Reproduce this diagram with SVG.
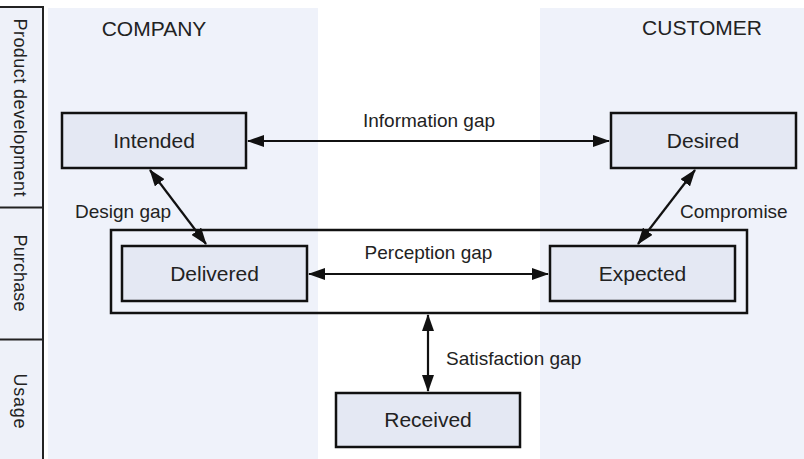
<svg xmlns="http://www.w3.org/2000/svg" width="804" height="459" viewBox="0 0 804 459">
<defs>
<style>
.col{fill:#eff2fa;stroke:none}
.side{fill:#eef1f9;stroke:#222;stroke-width:2}
.node rect{fill:#e4e8f3;stroke:#111;stroke-width:2.5}
.node text{font-family:"Liberation Sans",Arial,sans-serif;font-size:21px;fill:#222;text-anchor:middle}
.lbl{font-family:"Liberation Sans",Arial,sans-serif;font-size:19px;fill:#222}
.hdr{font-family:"Liberation Sans",Arial,sans-serif;font-size:21px;fill:#222;text-anchor:middle}
.stxt{font-family:"Liberation Sans",Arial,sans-serif;font-size:18px;fill:#222;text-anchor:middle}
.conn line{stroke:#111;stroke-width:2.2;marker-start:url(#ah);marker-end:url(#ah)}
</style>
<marker id="ah" viewBox="0 0 17 12" refX="16" refY="6" markerWidth="17" markerHeight="12" markerUnits="userSpaceOnUse" orient="auto-start-reverse">
<path d="M0,0 L17,6 L0,12 z" fill="#111"/>
</marker>
</defs>
<rect x="0" y="0" width="804" height="459" fill="#ffffff"/>
<rect class="col" x="48" y="8" width="270" height="451"/>
<rect class="col" x="540" y="8" width="264" height="451"/>
<g id="sidebar">
<rect class="side" x="-2" y="7" width="45" height="460"/>
<line x1="0" y1="207.5" x2="43" y2="207.5" stroke="#222" stroke-width="2"/>
<line x1="0" y1="339.5" x2="43" y2="339.5" stroke="#222" stroke-width="2"/>
<text class="stxt" transform="translate(14,107.5) rotate(90)" textLength="178" lengthAdjust="spacing">Product development</text>
<text class="stxt" transform="translate(14,273) rotate(90)" textLength="77" lengthAdjust="spacing">Purchase</text>
<text class="stxt" transform="translate(14,401) rotate(90)" textLength="55" lengthAdjust="spacing">Usage</text>
</g>
<text class="hdr" x="154" y="36">COMPANY</text>
<text class="hdr" x="702" y="35">CUSTOMER</text>
<g id="purchase-frame">
<rect x="111" y="230" width="636" height="83" fill="none" stroke="#111" stroke-width="2.5"/>
</g>
<g id="intended" class="node"><rect x="62" y="113" width="184" height="55"/><text x="154" y="148">Intended</text></g>
<g id="desired" class="node"><rect x="611" y="113" width="185" height="55"/><text x="703" y="148">Desired</text></g>
<g id="delivered" class="node"><rect x="122" y="246" width="185" height="55"/><text x="214.5" y="281">Delivered</text></g>
<g id="expected" class="node"><rect x="550" y="246" width="185" height="55"/><text x="642.5" y="281">Expected</text></g>
<g id="received" class="node"><rect x="336" y="393" width="184" height="54"/><text x="428" y="427">Received</text></g>
<g id="connectors" class="conn">
<line x1="248" y1="141" x2="609" y2="141"/>
<line x1="309" y1="274" x2="548" y2="274"/>
<line x1="150" y1="170" x2="206" y2="244"/>
<line x1="695" y1="170" x2="638" y2="244"/>
<line x1="428" y1="315" x2="428" y2="391"/>
</g>
<g id="labels">
<text class="lbl" x="429" y="127" text-anchor="middle">Information gap</text>
<text class="lbl" x="428.5" y="259" text-anchor="middle">Perception gap</text>
<text class="lbl" x="75" y="218">Design gap</text>
<text class="lbl" x="680" y="218">Compromise</text>
<text class="lbl" x="446" y="365">Satisfaction gap</text>
</g>
</svg>
